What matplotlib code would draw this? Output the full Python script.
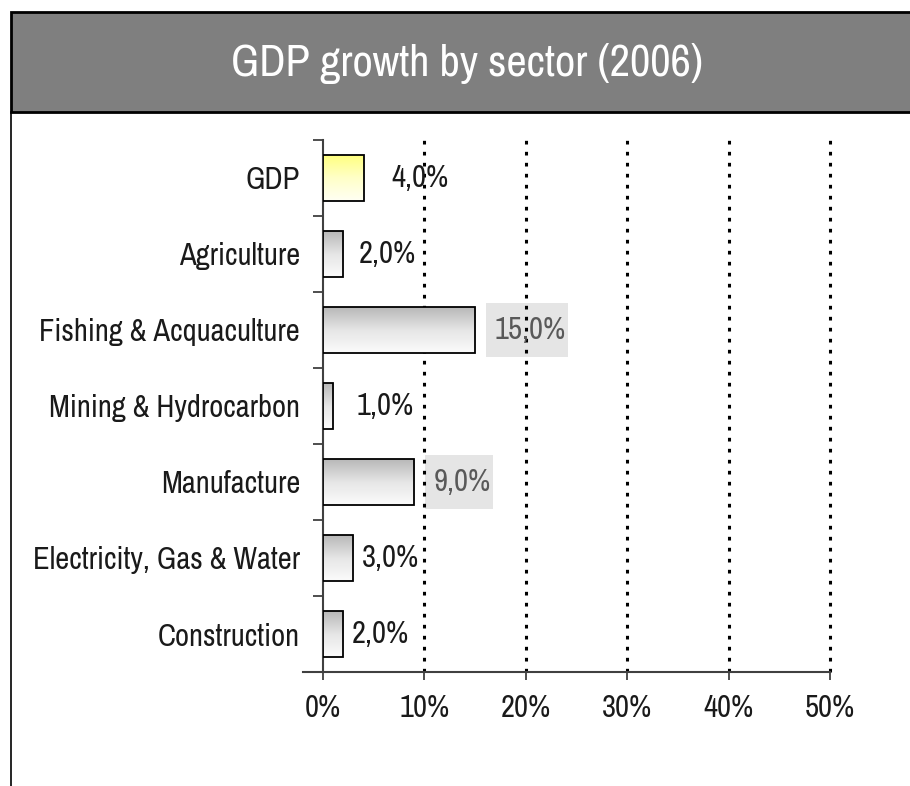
import numpy as np
import matplotlib
matplotlib.use("Agg")
from matplotlib import pyplot as plt
from matplotlib.patches import Rectangle
from matplotlib.lines import Line2D
from matplotlib.colors import LinearSegmentedColormap
from matplotlib.transforms import IdentityTransform

plt.rcParams['font.family'] = ['Archivo Narrow', 'Pragati Narrow', 'DejaVu Sans']

sectors = ["GDP", "Agriculture", "Fishing & Acquaculture", "Mining & Hydrocarbon",
           "Manufacture", "Electricity, Gas & Water", "Construction"]
growth = [4.0, 2.0, 15.0, 1.0, 9.0, 3.0, 2.0]
xticks = [0, 10, 20, 30, 40, 50]
highlighted = [False, False, True, False, True, False, False]
label_offsets = [20, 11, 14, 17, 14, 6, 6]   # points right of bar end

fs = 22

fig = plt.figure(figsize=(9.1, 7.86), dpi=100)

# title banner and frame
fig.patches.append(Rectangle((11/910, 1-112/786), 1, 100/786, transform=fig.transFigure,
                             facecolor="#7f7f7f", edgecolor="black", linewidth=2))
fig.lines.append(Line2D([11/910, 11/910], [0, 1-112/786], transform=fig.transFigure,
                        color="black", linewidth=1.2))
fig.text(0.513, 1-63/786, "GDP growth by sector (2006)", color="white", fontsize=32,
         fontweight="normal", ha="center", va="center")

ax = fig.add_axes([323/910, 1-672/786, 507/910, 532/786])
y = np.arange(len(sectors))
ax.set_xlim(0, 50)
ax.set_ylim(len(sectors) - 0.5, -0.5)

grey = LinearSegmentedColormap.from_list("grey", ["#b8b8b8", "#e6e6e6", "#fbfbfb"])
yellow = LinearSegmentedColormap.from_list("yellow", ["#ffff80", "#ffffc8", "#fffff4"])
grad = np.linspace(0, 1, 100).reshape(-1, 1)

bars = ax.barh(y, growth, height=0.6, facecolor="none", edgecolor="black", linewidth=1.3, zorder=4)
for i, b in enumerate(bars):
    cmap = yellow if i == 0 else grey
    im = ax.imshow(grad, cmap=cmap, aspect="auto", zorder=3,
                   extent=(0, growth[i], y[i] + 0.3, y[i] - 0.3))
    im.set_clip_path(b)

ax.set_xticks(xticks)
ax.set_xticklabels([f"{v}%" for v in xticks], fontsize=fs, color="#1a1a1a")
ax.set_yticks(y)
ax.set_yticklabels(sectors, fontsize=fs, color="#1a1a1a")
ax.set_yticks(np.arange(len(sectors) + 1) - 0.5, minor=True)
ax.tick_params(axis="y", which="major", length=0, pad=16.5)
ax.tick_params(axis="y", which="minor", length=7.2, width=1.3, color="#404040", direction="out")
ax.tick_params(axis="x", length=5.5, width=1.3, color="#404040", pad=10)

for s in ["top", "right"]:
    ax.spines[s].set_visible(False)
for s in ["left", "bottom"]:
    ax.spines[s].set_color("#404040")
    ax.spines[s].set_linewidth(1.5)
ax.spines["bottom"].set_bounds(-2, 50)
ax.spines["bottom"].set_zorder(5)

for v in xticks[1:]:
    ax.axvline(v, color="black", linestyle=(0, (1.2, 2.4)), linewidth=2.2, zorder=2, clip_on=False)

texts = []
for i, v in enumerate(growth):
    t = ax.annotate(f"{v:.1f}%".replace(".", ","), (v, y[i]), xytext=(label_offsets[i], 0),
                    textcoords="offset points", va="center", ha="left", fontsize=fs,
                    color="#595959" if highlighted[i] else "#1a1a1a", zorder=6)
    texts.append(t)

# light grey boxes behind the larger values
fig.canvas.draw()
r = fig.canvas.get_renderer()
for i, t in enumerate(texts):
    if highlighted[i]:
        bb = t.get_window_extent(r)
        cy = (bb.y0 + bb.y1) / 2
        ax.add_patch(Rectangle((bb.x0 - 9, cy - 27), bb.width + 11, 54,
                               transform=IdentityTransform(), clip_on=False,
                               facecolor="#e5e5e5", edgecolor="none", zorder=1))

fig.savefig("out.png", dpi=100)
